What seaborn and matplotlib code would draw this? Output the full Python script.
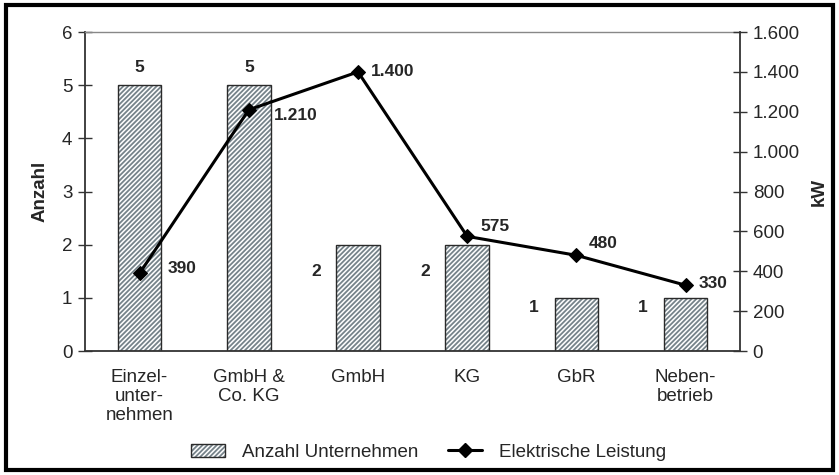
import matplotlib
matplotlib.use("Agg")
import matplotlib.pyplot as plt
import seaborn as sns
import pandas as pd
from matplotlib.patches import Rectangle, Patch
from matplotlib.lines import Line2D

categories = ["Einzel-\nunter-\nnehmen", "GmbH &\nCo. KG", "GmbH", "KG", "GbR", "Neben-\nbetrieb"]
anzahl = [5, 5, 2, 2, 1, 1]
leistung = [390, 1210, 1400, 575, 480, 330]
leistung_labels = ["390", "1.210", "1.400", "575", "480", "330"]
left_ticks = [0, 1, 2, 3, 4, 5, 6]
right_ticks = [0, 200, 400, 600, 800, 1000, 1200, 1400, 1600]
right_ticklabels = ["0", "200", "400", "600", "800", "1.000", "1.200", "1.400", "1.600"]

sns.set_style("white")
plt.rcParams["font.family"] = ["Liberation Sans", "DejaVu Sans"]
plt.rcParams["hatch.linewidth"] = 1.3

FS = 13.5
LFS = 12.5
HATCH = "///////"
HATCH_COLOR = "#76838a"
EDGE = "#2a2a2a"

df = pd.DataFrame({"cat": categories, "anzahl": anzahl, "leistung": leistung})

fig = plt.figure(figsize=(8.39, 4.75), dpi=100)
ax = fig.add_axes([0.1013, 0.261, 0.781, 0.6716])

# hatched fill (hatch takes the edge colour)
sns.barplot(data=df, x="cat", y="anzahl", ax=ax, color="white", width=0.4,
            edgecolor=HATCH_COLOR, linewidth=0, saturation=1)
for p in ax.patches:
    p.set_hatch(HATCH)
    p.set_facecolor("white")
# dark outline on top
sns.barplot(data=df, x="cat", y="anzahl", ax=ax, color=EDGE, width=0.4,
            fill=False, linewidth=1.0, saturation=1)

ax.set_ylim(0, 6)
ax.set_xlim(-0.5, 5.5)
ax.set_yticks(left_ticks)
ax.set_yticklabels([str(t) for t in left_ticks], fontsize=FS)
ax.set_xticks([i - 0.5 for i in range(7)], minor=True)
ax.set_xticks(range(6))
ax.set_xticklabels(categories, fontsize=FS, linespacing=1.15)
ax.tick_params(axis="x", which="major", length=0, pad=13)
ax.tick_params(axis="x", which="minor", length=10, direction="inout", color="#333333", width=1)
ax.tick_params(axis="y", length=10, direction="inout", color="#333333", width=1, pad=4)
ax.set_xlabel("")
ax.set_ylabel("Anzahl", fontsize=FS, fontweight="bold", labelpad=10)
for s in ["left", "bottom"]:
    ax.spines[s].set_color("#333333")
    ax.spines[s].set_linewidth(1.3)
ax.spines["top"].set_color("#888888")
ax.spines["top"].set_linewidth(1.0)
ax.spines["right"].set_visible(False)

# bar value labels
bar_label_pos = [(0, 5.34), (1, 5.34), (2 - 0.38, 1.49),
                 (3 - 0.38, 1.49), (4 - 0.39, 0.81), (5 - 0.39, 0.81)]
for (x, y), v in zip(bar_label_pos, anzahl):
    ax.text(x, y, str(v), ha="center", va="center", fontsize=LFS, fontweight="bold")

ax2 = ax.twinx()
sns.lineplot(x=list(range(6)), y=leistung, ax=ax2, color="black", linewidth=2.2,
             marker="D", markersize=7.5, markeredgecolor="black")
ax2.set_ylim(0, 1600)
ax2.set_xlim(-0.5, 5.5)
ax2.set_yticks(right_ticks)
ax2.set_yticklabels(right_ticklabels, fontsize=FS)
ax2.tick_params(axis="y", length=10, direction="inout", color="#333333", width=1, pad=4)
ax2.set_ylabel("kW", fontsize=FS, fontweight="bold", rotation=90, labelpad=8)
ax2.spines["right"].set_color("#333333")
ax2.spines["right"].set_linewidth(1.3)
for s in ["left", "top", "bottom"]:
    ax2.spines[s].set_visible(False)

line_label_pos = [(0.26, 416), (1.225, 1183), (2.115, 1401), (3.124, 627), (4.115, 537), (5.115, 341)]
for (x, y), t in zip(line_label_pos, leistung_labels):
    ax2.text(x, y, t, ha="left", va="center", fontsize=LFS, fontweight="bold")

handles = [(Patch(facecolor="white", edgecolor=HATCH_COLOR, hatch=HATCH, linewidth=0),
            Patch(facecolor="none", edgecolor=EDGE, linewidth=1.0)),
           Line2D([0], [0], color="black", linewidth=2.2, marker="D", markersize=7.5)]
fig.legend(handles, ["Anzahl Unternehmen", "Elektrische Leistung"], loc="center",
           bbox_to_anchor=(0.511, 0.048), ncol=2, frameon=False, fontsize=FS,
           handlelength=1.8, columnspacing=1.6, handletextpad=0.9)

fig.add_artist(Rectangle((0.007, 0.011), 0.986, 0.978, transform=fig.transFigure,
                         fill=False, edgecolor="black", linewidth=3))

fig.savefig("out.png", dpi=100)
